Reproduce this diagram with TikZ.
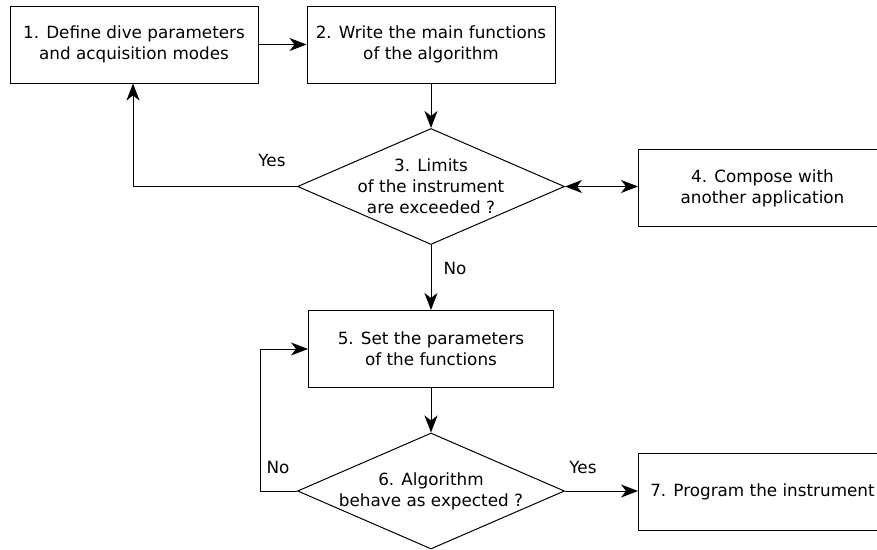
\documentclass[tikz,border=0pt]{standalone}
\usepackage{fontspec}
\setmainfont{DejaVu Sans}
\usetikzlibrary{positioning,arrows.meta}
\usetikzlibrary{shapes.geometric}
\tikzstyle{every picture}+=[remember picture]
\tikzstyle{stepbox} = [draw, rectangle, line width=1pt, minimum width=248pt, minimum height=77pt, align=center, inner sep=0pt]
\tikzstyle{decision} = [draw, diamond, line width=1pt, minimum width=267pt, minimum height=116pt, inner sep=0pt]
\tikzstyle{answer} = [inner sep=0pt]
\tikzset{tip/.tip={Stealth[length=17pt,width=13pt,inset=5pt]}}
\tikzset{link/.style={line width=1pt, -tip}}

\begin{document}
\begin{tikzpicture}[x=1pt, y=-1pt, font=\fontsize{16.8}{21}\selectfont]
\useasboundingbox (0,0) rectangle (877,549);
\clip (0,0) rectangle (877,549);

\node[stepbox] (s_1) at (134,44.5) {1. Define dive parameters\\and acquisition modes};
\node[stepbox] (s_2) at (431,44.5) {2. Write the main functions\\of the algorithm};
\node[decision, label={[align=center]center:3. Limits\\of the instrument\\are exceeded ?}] (d_3) at (431,186.5) {};
\node[stepbox, anchor=west] (s_4) at (638,188) {4. Compose with\\another application};
\node[stepbox, minimum width=245pt] (s_5) at (431,349) {5. Set the parameters\\of the functions};
\node[decision, label={[align=center]center:6. Algorithm\\behave as expected ?}] (d_6) at (431,491) {};
\node[stepbox, anchor=west] (s_7) at (638,491.5) {7. Program the instrument};

\coordinate (c_1) at (133,186.5);
\coordinate (c_2) at (260,491);
\coordinate (c_3) at (260,349);

\draw[link] (s_1) -- (s_2);
\draw[link] (s_2.south) -- (d_3.north);
\draw[link] (d_3.west) -- (c_1) -- (c_1 |- s_1.south);
\draw[link, tip-tip] (d_3.east) -- (d_3.east -| s_4.west);
\draw[link] (d_3.south) -- (s_5.north);
\draw[link] (s_5.south) -- (d_6.north);
\draw[link] (d_6.west) -- (c_2) -- (c_3) -- (s_5.west);
\draw[link] (d_6.east) -- (d_6.east -| s_7.west);

\node[answer] (y_1) at (272,160) {Yes};
\node[answer] (n_1) at (455,268) {No};
\node[answer] (n_2) at (278,467) {No};
\node[answer] (y_2) at (583,467) {Yes};

\end{tikzpicture}
\end{document}
